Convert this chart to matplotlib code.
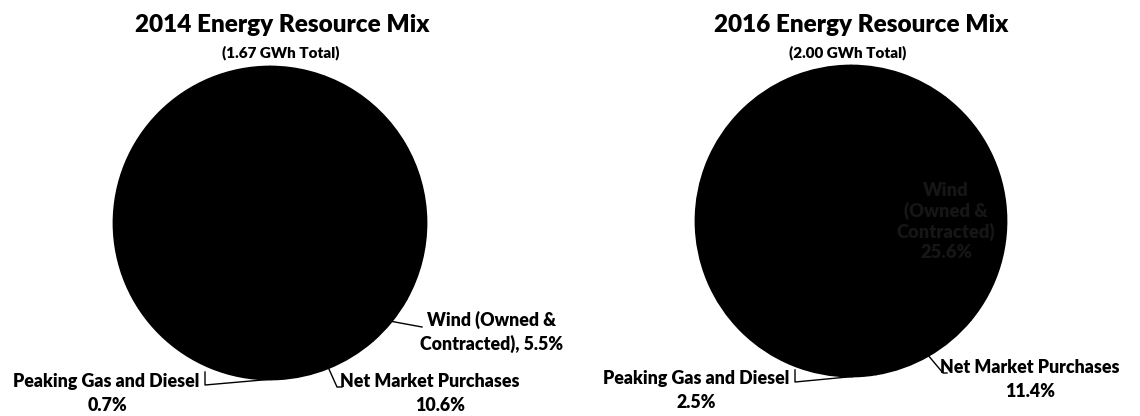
import matplotlib
matplotlib.use("Agg")
import matplotlib.pyplot as plt
import numpy as np

# ---------------- data ----------------
categories = ["Other resources", "Wind (Owned & Contracted)", "Net Market Purchases",
              "Peaking Gas and Diesel", "Other resources (rest)"]
values_2014 = [33.1, 5.5, 10.6, 0.7, 50.1]
values_2016 = [10.4, 25.6, 11.4, 2.5, 50.1]
titles = ["2014 Energy Resource Mix", "2016 Energy Resource Mix"]
subtitles = ["(1.67 GWh Total)", "(2.00 GWh Total)"]

W, H = 1140, 416
plt.rcParams['font.family'] = ['Lato', 'DejaVu Sans']
fig = plt.figure(figsize=(W / 100, H / 100), dpi=100)
ax = fig.add_axes([0, 0, 1, 1])

def Y(y):
    return H - y

def pct(v):
    return f"{v:.1f}%"

pies = [
    dict(values=values_2014, center=(270, 223), r=156, title_x=282, sub_x=281),
    dict(values=values_2016, center=(851, 221), r=155, title_x=861, sub_x=848),
]

wedge_sets = []
for p in pies:
    cx, cy = p["center"]
    wedges, _ = ax.pie(p["values"], center=(cx, Y(cy)), radius=p["r"], startangle=90,
                       counterclock=False, colors=["black"] * len(p["values"]),
                       wedgeprops=dict(edgecolor="black", linewidth=2.0,
                                       joinstyle="round"))
    wedge_sets.append(wedges)

def anchor(w, r_frac=1.0):
    ang = np.deg2rad((w.theta1 + w.theta2) / 2)
    cx, cy = w.center
    return cx + w.r * r_frac * np.cos(ang), cy + w.r * r_frac * np.sin(ang)

lab_fs = 12.8
WT = "heavy"
tkw = dict(fontweight=WT, fontsize=lab_fs, color="black", ha="center", va="baseline")

# titles
for p, t, s in zip(pies, titles, subtitles):
    ax.text(p["title_x"], Y(32), t, fontweight=WT, fontsize=17.5, ha="center", va="baseline")
    ax.text(p["sub_x"], Y(57), s, fontweight=WT, fontsize=11, ha="center", va="baseline")

lw = 1.0
# ---- 2014 labels ----
w14 = wedge_sets[0]
ax.text(492, Y(326), "Wind (Owned &", **tkw)
ax.text(492, Y(350), f"Contracted), {pct(values_2014[1])}", **tkw)
a = anchor(w14[1])
ax.plot([a[0], 422], [a[1], Y(327)], color="black", lw=lw)

ax.text(430, Y(387), categories[2], **tkw)
ax.text(440, Y(411), pct(values_2014[2]), **tkw)
a = anchor(w14[2])
ax.plot([a[0], 337, 342], [a[1], Y(387), Y(387)], color="black", lw=lw)

ax.text(106, Y(387), categories[3], **tkw)
ax.text(107, Y(411), pct(values_2014[3]), **tkw)
a = anchor(w14[3])
ax.plot([a[0], 205, 205], [a[1], Y(385), Y(372)], color="black", lw=lw)

# ---- 2016 labels ----
w16 = wedge_sets[1]
ax.text(946, Y(182), "Wind\n(Owned &\nContracted)\n" + pct(values_2016[1]),
        fontweight=WT, fontsize=13.2, color="#161616", ha="center", va="top",
        linespacing=1.2)
ax.text(1030, Y(373), categories[2], **tkw)
ax.text(1030, Y(397), pct(values_2016[2]), **tkw)
a = anchor(w16[2])
ax.plot([a[0], 943, 947], [a[1], Y(373), Y(373)], color="black", lw=lw)

ax.text(696, Y(384), categories[3], **tkw)
ax.text(696, Y(408), pct(values_2016[3]), **tkw)
a = anchor(w16[3])
ax.plot([a[0], 795, 795], [a[1], Y(382), Y(370)], color="black", lw=lw)

ax.set_xlim(0, W)
ax.set_ylim(0, H)
ax.set_aspect("equal")
ax.axis("off")
fig.savefig("out.png", dpi=100, facecolor="white")
